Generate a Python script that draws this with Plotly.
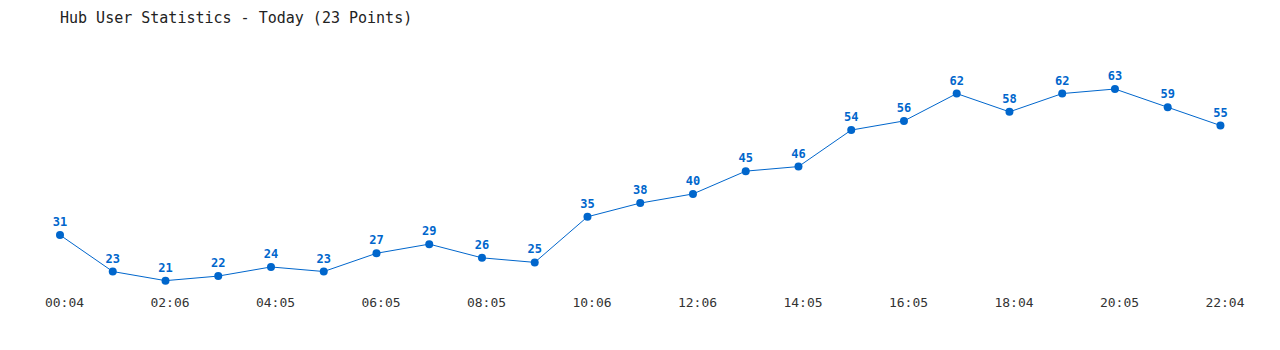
import plotly.graph_objects as go

times = ["00:04", "01:05", "02:06", "03:05", "04:05", "05:05", "06:05", "07:05",
         "08:05", "09:05", "10:06", "11:06", "12:06", "13:05", "14:05", "15:05",
         "16:05", "17:04", "18:04", "19:05", "20:05", "21:04", "22:04"]
users = [31, 23, 21, 22, 24, 23, 27, 29, 26, 25, 35, 38, 40, 45, 46, 54, 56,
         62, 58, 62, 63, 59, 55]
tick_labels = ["00:04", "02:06", "04:05", "06:05", "08:05", "10:06", "12:06",
               "14:05", "16:05", "18:04", "20:05", "22:04"]

idx = list(range(len(times)))
step_px = 1160 / 22
label_nudge = 4.5 / step_px  # labels sit ~4.5px right of their points
tick_pos = [times.index(t) + label_nudge for t in tick_labels]

x_max = 22.2
right_margin = 1280 - 60 - step_px * x_max

fig = go.Figure(go.Scatter(
    x=idx, y=users, mode="lines+markers+text",
    line=dict(color="#0066cc", width=1),
    marker=dict(color="#0066cc", size=8),
    text=[str(v) for v in users], textposition="top center",
    textfont=dict(family="DejaVu Sans Mono", size=12, color="#0066cc", weight="bold"),
    cliponaxis=False, hoverinfo="skip",
))

fig.update_layout(
    width=1280, height=350, paper_bgcolor="white", plot_bgcolor="white",
    margin=dict(l=60, r=right_margin, t=40, b=60),
    showlegend=False,
    title=dict(text="Hub User Statistics - Today (23 Points)", x=60/1280, xanchor="left",
               y=1 - 18/350, yanchor="middle",
               font=dict(family="DejaVu Sans Mono", size=15, color="#222222")),
    xaxis=dict(range=[0, x_max], tickvals=tick_pos, ticktext=tick_labels, showgrid=False,
               zeroline=False, showline=False, ticks="", ticklabelstandoff=3,
               tickfont=dict(family="DejaVu Sans Mono", size=13, color="#333333")),
    yaxis=dict(range=[18.95, 73.74], visible=False),
)

fig.write_html("out.html")
